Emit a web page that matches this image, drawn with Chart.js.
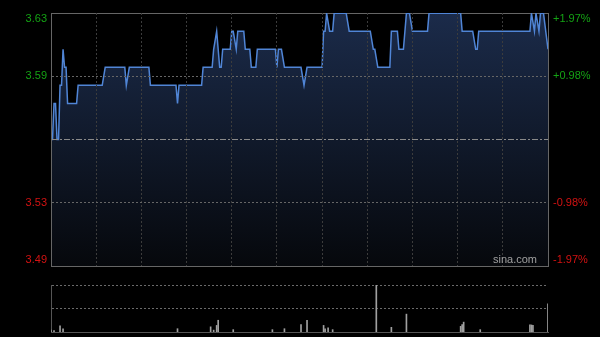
<!DOCTYPE html>
<html>
<head>
<meta charset="utf-8">
<script src="https://cdn.jsdelivr.net/npm/chart.js@4.4.1/dist/chart.umd.min.js"></script>
<style>
  html, body { margin: 0; padding: 0; background: #000; width: 600px; height: 337px; overflow: hidden; }
  canvas { position: absolute; left: 0; }
  #price { top: 0; }
  #vol { top: 270px; }
</style>
</head>
<body>
<canvas id="price" width="600" height="270"></canvas>
<canvas id="vol" width="600" height="67"></canvas>
<script>
// minutes since 9:30 (HK session, lunch removed: 0..330) and last price
const minutes = [0, 1, 2, 3, 4, 5, 6, 7, 8, 9, 10, 11, 17, 18, 34, 36, 49, 50, 52, 65, 66, 83, 84, 85,
  100, 101, 107, 108, 110, 112, 113, 114, 119, 120, 121, 123, 124, 128, 129, 132, 133, 136, 137,
  149, 150, 151, 153, 155, 166, 168, 170, 180, 181, 182, 183, 185, 187, 188, 196, 198, 212, 214,
  215, 217, 225, 226, 230, 231, 234, 236, 238, 240, 250, 251, 272, 273, 280, 282, 283, 284, 318,
  319, 321, 322, 324, 325, 327, 330];
const prices = [3.56, 3.56, 3.58, 3.58, 3.56, 3.56, 3.59, 3.59, 3.61, 3.60, 3.60, 3.58, 3.58, 3.59, 3.59, 3.60, 3.60, 3.59, 3.60, 3.60, 3.59, 3.59, 3.58, 3.59,
  3.59, 3.60, 3.60, 3.61, 3.62, 3.60, 3.60, 3.61, 3.61, 3.62, 3.62, 3.61, 3.62, 3.62, 3.61, 3.61, 3.60, 3.60, 3.61,
  3.61, 3.60, 3.61, 3.61, 3.60, 3.60, 3.59, 3.60, 3.60, 3.62, 3.62, 3.63, 3.62, 3.62, 3.63, 3.63, 3.62, 3.62, 3.61,
  3.61, 3.60, 3.60, 3.62, 3.62, 3.61, 3.61, 3.63, 3.63, 3.62, 3.62, 3.63, 3.63, 3.62, 3.62, 3.61, 3.61, 3.62, 3.62,
  3.63, 3.62, 3.63, 3.62, 3.63, 3.63, 3.61];

const volMinutes = [0, 2, 6, 8, 84, 106, 108, 110, 111, 121, 147, 155, 166, 170, 181, 182, 184, 187,
  216, 226, 236, 272, 273, 274, 285, 318, 319, 320, 330];
const volumes = [4, 3, 13, 7, 7, 11, 4, 14, 25, 5, 5, 7, 16, 25, 14, 7, 9, 5,
  100, 10, 38, 12, 16, 21, 5, 15, 15, 14, 60];

const prevClose = 3.56;
const priceLevels = [3.4899, 3.525, 3.56, 3.595, 3.6301];
const priceLabels = ["3.49", "3.53", "", "3.59", "3.63"];
const pctLabels = ["-1.97%", "-0.98%", "", "+0.98%", "+1.97%"];
const timeTicks = [0, 30, 60, 90, 120, 150, 180, 210, 240, 270, 300, 330];
const volLevels = [0, 50, 100];

const FONT = "11px Arial, 'Liberation Sans', sans-serif";

const sideLabels = {
  id: "sideLabels",
  afterDraw(chart) {
    const { ctx, chartArea: a } = chart;
    const y = chart.scales.y;
    ctx.save();
    ctx.font = FONT;
    ctx.textBaseline = "middle";
    priceLevels.forEach((v, i) => {
      if (!priceLabels[i]) return;
      let py = y.getPixelForValue(v);
      py = Math.min(Math.max(py, a.top + 6), a.bottom - 6);
      ctx.fillStyle = v > prevClose ? "#14a214" : "#d41212";
      ctx.textAlign = "right";
      ctx.fillText(priceLabels[i], a.left - 4, py);
      ctx.textAlign = "left";
      ctx.fillText(pctLabels[i], a.right + 5, py);
    });
    ctx.fillStyle = "#a0a0a0";
    ctx.textAlign = "right";
    ctx.fillText("sina.com", a.right - 11, a.bottom - 6);
    ctx.restore();
  }
};

function areaFill(c) {
  const a = c.chart.chartArea;
  if (!a) return "rgba(0,0,0,0)";
  const g = c.chart.ctx.createLinearGradient(0, a.top, 0, a.bottom);
  g.addColorStop(0, "#1b2b4a");
  g.addColorStop(1, "#06080c");
  return g;
}

const noHeight = s => { s.height = 0; };

new Chart(document.getElementById("price"), {
  type: "line",
  data: {
    datasets: [{
      data: minutes.map((m, i) => ({ x: m, y: prices[i] })),
      borderColor: "#5085d6", borderWidth: 1.5, backgroundColor: areaFill,
      fill: "start", pointRadius: 0, tension: 0
    }]
  },
  options: {
    responsive: false, animation: false, events: [],
    layout: { padding: { top: 13, bottom: 4 } },
    plugins: { legend: { display: false }, tooltip: { enabled: false } },
    scales: {
      x: {
        type: "linear", min: 0, max: 330,
        afterBuildTicks: s => { s.ticks = timeTicks.map(v => ({ value: v })); },
        afterFit: noHeight,
        ticks: { display: false },
        grid: { drawTicks: false, z: 1, color: "#3c3c3c",
          lineWidth: c => (c.index === 0 || c.index === timeTicks.length - 1) ? 0 : 1 },
        border: { color: "#666", dash: [2, 2], z: 1 }
      },
      x2: {
        type: "linear", position: "top", min: 0, max: 330,
        afterFit: noHeight,
        ticks: { display: false }, grid: { display: false, drawTicks: false },
        border: { color: "#666" }
      },
      y: {
        position: "left", min: 3.4899, max: 3.6301,
        afterBuildTicks: s => { s.ticks = priceLevels.map(v => ({ value: v })); },
        afterFit: s => { s.width = 51; },
        ticks: { display: false },
        grid: { drawTicks: false, z: 1,
          color: c => c.index === 2 ? "#8a8a8a" : "#666",
          lineWidth: c => (c.index === 0 || c.index === 4) ? 0 : 1 },
        border: { color: "#666", dash: c => c.index === 2 ? [6, 2, 2, 2] : [2, 2], z: 1 }
      },
      y2: {
        position: "right", min: 3.4899, max: 3.6301,
        afterFit: s => { s.width = 52; },
        ticks: { display: false }, grid: { display: false, drawTicks: false },
        border: { color: "#666" }
      }
    }
  },
  plugins: [sideLabels]
});

new Chart(document.getElementById("vol"), {
  type: "bar",
  data: {
    datasets: [{
      data: volMinutes.map((m, i) => ({ x: m, y: volumes[i] })),
      backgroundColor: "#a0a0a0", barThickness: 1
    }]
  },
  options: {
    responsive: false, animation: false, events: [],
    layout: { padding: { top: 15, bottom: 5, right: 52 } },
    plugins: { legend: { display: false }, tooltip: { enabled: false } },
    scales: {
      x: {
        type: "linear", min: 0, max: 330, offset: false,
        afterFit: noHeight,
        ticks: { display: false }, grid: { display: false, drawTicks: false },
        border: { color: "#555" }
      },
      y: {
        min: 0, max: 100,
        afterBuildTicks: s => { s.ticks = volLevels.map(v => ({ value: v })); },
        afterFit: s => { s.width = 51; },
        ticks: { display: false },
        grid: { drawTicks: false, color: "#6a6a6a", lineWidth: c => c.index === 0 ? 0 : 1 },
        border: { color: "#555", dash: [2, 2] }
      }
    }
  }
});
</script>
</body>
</html>
